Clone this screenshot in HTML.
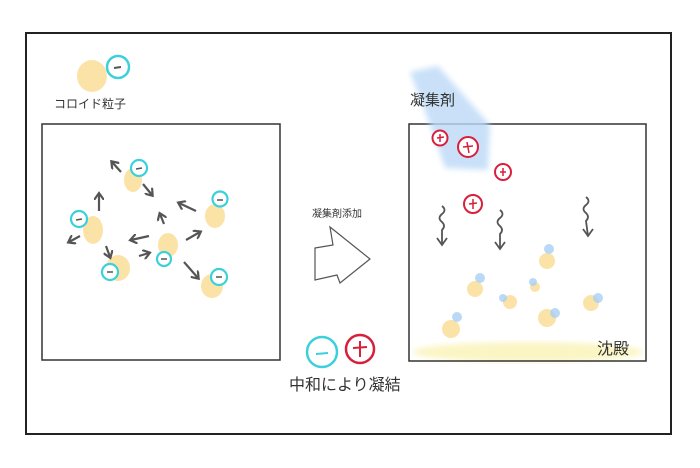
<!DOCTYPE html>
<html><head><meta charset="utf-8"><style>
html,body{margin:0;padding:0;background:#fff;width:700px;height:468px;overflow:hidden}
text{font-family:"Liberation Sans","Noto Sans CJK JP",sans-serif;fill:#333}
</style></head><body>
<svg width="700" height="468" viewBox="0 0 700 468" xmlns="http://www.w3.org/2000/svg">
<defs>
<marker id="ah" markerWidth="10" markerHeight="10" refX="6" refY="5" orient="auto" markerUnits="userSpaceOnUse">
<path d="M0,0 L7,5 L0,10" fill="none" stroke="#555" stroke-width="2.2"/>
</marker>
<filter id="bl"><feGaussianBlur stdDeviation="3"/></filter>
</defs>
<rect x="26" y="33" width="645" height="401" fill="none" stroke="#222" stroke-width="2"/>
<!-- legend -->
<ellipse cx="92" cy="76" rx="15" ry="16" fill="#fbe3a8"/>
<circle cx="118" cy="67" r="11" fill="#fff" stroke="#3cd0dc" stroke-width="2.5"/>
<line x1="114" y1="68" x2="121" y2="67" stroke="#555" stroke-width="2"/>
<text x="54" y="108" font-size="12">コロイド粒子</text>
<!-- left box -->
<rect x="42" y="124" width="238" height="236" fill="none" stroke="#333" stroke-width="1.5"/>
<g fill="#fbe3a8">
<ellipse cx="133" cy="180" rx="9" ry="12"/>
<ellipse cx="93" cy="230" rx="10" ry="14"/>
<ellipse cx="118" cy="268" rx="12" ry="13"/>
<ellipse cx="168" cy="245" rx="10" ry="12"/>
<ellipse cx="215" cy="216" rx="10" ry="12"/>
<ellipse cx="212" cy="286" rx="11" ry="12"/>
</g>
<g fill="#fff" stroke="#3cd0dc" stroke-width="2.2">
<circle cx="139" cy="168" r="8"/>
<circle cx="79" cy="219" r="8"/>
<circle cx="110" cy="272" r="8"/>
<circle cx="164" cy="259" r="7"/>
<circle cx="220" cy="199" r="7.5"/>
<circle cx="219" cy="277" r="8"/>
</g>
<g stroke="#555" stroke-width="1.5">
<line x1="136" y1="169" x2="142" y2="168"/><line x1="76" y1="220" x2="82" y2="219"/>
<line x1="107" y1="272" x2="113" y2="272"/><line x1="161" y1="259" x2="167" y2="259"/>
<line x1="217" y1="200" x2="223" y2="200"/><line x1="216" y1="277" x2="222" y2="277"/>
</g>
<g stroke="#555" stroke-width="2.2" fill="none" marker-end="url(#ah)">
<line x1="121" y1="172" x2="112" y2="162"/>
<line x1="143" y1="184" x2="152" y2="195"/>
<line x1="99" y1="211" x2="99" y2="194"/>
<line x1="80" y1="236" x2="69" y2="242"/>
<line x1="106" y1="246" x2="110" y2="257"/>
<line x1="149" y1="236" x2="131" y2="240"/>
<line x1="139" y1="256" x2="149" y2="253"/>
<line x1="164" y1="224" x2="160" y2="214"/>
<line x1="196" y1="211" x2="179" y2="203"/>
<line x1="186" y1="240" x2="200" y2="232"/>
<line x1="184" y1="262" x2="198" y2="278"/>
</g>
<!-- middle arrow -->
<text x="312" y="217" font-size="10">凝集剤添加</text>
<polygon points="315,248 333,245 330,227 370,259 340,283 337,275 315,280" fill="#fff" stroke="#555" stroke-width="1.2"/>
<circle cx="322" cy="352" r="15" fill="#fff" stroke="#3cd0dc" stroke-width="2.5"/>
<line x1="316" y1="354" x2="328" y2="353" stroke="#3cd0dc" stroke-width="2"/>
<circle cx="360" cy="349" r="14" fill="#fff" stroke="#d81f3c" stroke-width="2.5"/>
<path d="M353,348 L367,347 M360,341 L360,357" stroke="#d81f3c" stroke-width="2"/>
<text x="289" y="390" font-size="16">中和により凝結</text>
<!-- right box -->
<ellipse cx="528" cy="352" rx="115" ry="10" fill="#fbf5c4" filter="url(#bl)"/>
<rect x="409" y="124" width="237" height="237" fill="none" stroke="#333" stroke-width="1.5"/>
<path d="M410,72 L438,66 L490,125 L488,170 L445,168 L432,130 Z" fill="#bcd9f7" opacity="0.8" filter="url(#bl)"/>
<text x="410" y="105" font-size="15">凝集剤</text>
<g fill="#fff" stroke="#d81f3c" stroke-width="2">
<circle cx="440" cy="138" r="7.5"/><circle cx="468" cy="147" r="10"/>
<circle cx="503" cy="172" r="8"/><circle cx="473" cy="204" r="9"/>
</g>
<g stroke="#d81f3c" stroke-width="1.5">
<path d="M437,138 L444,137 M440,134 L440,142"/><path d="M463,147 L473,146 M467,142 L469,153"/>
<path d="M500,172 L506,172 M503,168 L503,176"/><path d="M469,204 L477,203 M473,199 L473,209"/>
</g>
<g fill="#fbe3a8">
<circle cx="547" cy="261" r="8"/><circle cx="475" cy="289" r="8"/><circle cx="535" cy="287" r="5"/>
<circle cx="510" cy="302" r="7"/><circle cx="547" cy="318" r="9"/><circle cx="591" cy="303" r="8"/>
<circle cx="451" cy="329" r="9"/>
</g>
<g fill="#a9d0f5" opacity="0.8">
<circle cx="549" cy="249" r="5"/><circle cx="480" cy="278" r="5"/><circle cx="533" cy="282" r="4"/>
<circle cx="503" cy="298" r="4"/><circle cx="555" cy="313" r="5"/><circle cx="598" cy="298" r="5"/>
<circle cx="457" cy="317" r="5"/>
</g>
<g stroke="#555" stroke-width="1.8" fill="none">
<path d="M442,206 q5,4 0,8 q-5,4 0,8 q4,4 0,8 L442,244"/><path d="M437,238 L442,245 L447,238"/>
<path d="M500,210 q5,4 0,8 q-5,4 0,8 q4,4 0,8 L500,249"/><path d="M495,242 L500,249 L505,242"/>
<path d="M586,197 q5,4 0,8 q-5,4 0,8 q4,4 0,8 L588,236"/><path d="M583,229 L588,236 L593,229"/>
</g>
<text x="597" y="354" font-size="16">沈殿</text>
</svg>
</body></html>
